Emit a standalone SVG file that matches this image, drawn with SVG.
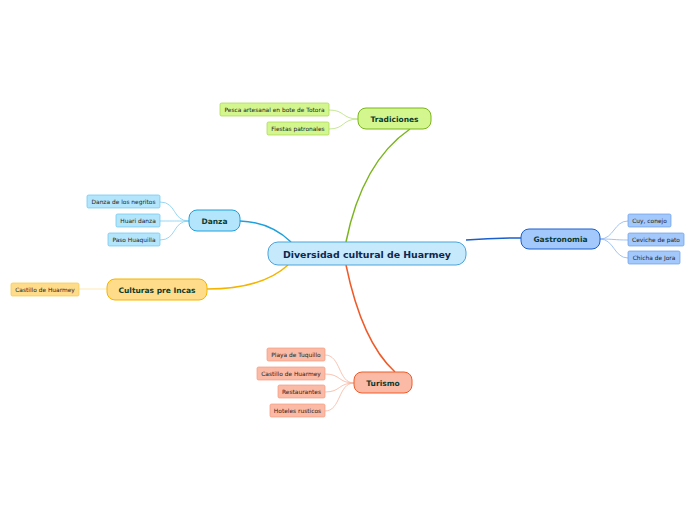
<svg xmlns="http://www.w3.org/2000/svg" width="696" height="520" viewBox="0 0 696 520">
<style>
text{font-family:"DejaVu Sans",Verdana,sans-serif;text-anchor:middle;dominant-baseline:central}
.main{font-size:7.5px;font-weight:bold;fill:#0d3b2e}
.leaf{font-size:5.9px;fill:#222}
.c{fill:none}
</style>
<rect width="696" height="520" fill="#fff"/>
<g id="connectors">
<path class="c" d="M346,242 Q362,162 410,129" stroke="#7ab51d" stroke-width="1.5"/>
<path class="c" d="M291,242 Q270,222 240,221" stroke="#1ea0dc" stroke-width="1.5"/>
<path class="c" d="M288,265 Q262,289 207,289" stroke="#f5b400" stroke-width="1.5"/>
<path class="c" d="M346,265 Q362,342 395,372" stroke="#f05a28" stroke-width="1.5"/>
<path class="c" d="M466,240 Q492,238 521,238" stroke="#1a5fcc" stroke-width="1.5"/>
<g stroke="#b8e07a" stroke-width="0.8">
<path class="c" d="M358,119 C342,119 345,110 329,110"/>
<path class="c" d="M358,119 C342,119 345,129 329,129"/>
</g>
<g stroke="#7fcdf0" stroke-width="0.8">
<path class="c" d="M189,221 C172,221 177,202 160,202"/>
<path class="c" d="M189,221 C172,221 177,221 160,221"/>
<path class="c" d="M189,221 C172,221 177,240 160,240"/>
</g>
<path class="c" d="M107,289 L79,289" stroke="#ffe3a0" stroke-width="0.8"/>
<g stroke="#8ab4f0" stroke-width="0.8">
<path class="c" d="M600,239 C614,239 614,221 628,221"/>
<path class="c" d="M600,239 C614,239 614,240 628,240"/>
<path class="c" d="M600,239 C614,239 614,258 628,258"/>
</g>
<g stroke="#f8b49e" stroke-width="0.8">
<path class="c" d="M354,383 C338,383 341,355 325,355"/>
<path class="c" d="M354,383 C338,383 341,374 325,374"/>
<path class="c" d="M354,383 C338,383 341,392 325,392"/>
<path class="c" d="M354,383 C338,383 341,411 325,411"/>
</g>
</g>
<g id="central">
<rect x="268" y="242" width="198" height="23" rx="10" fill="#c6eafc" stroke="#4aa3dc" stroke-width="1"/>
<text x="367" y="254" style="font-size:9.4px;font-weight:bold;fill:#10264f">Diversidad cultural de Huarmey</text>
</g>
<g id="tradiciones">
<rect x="358" y="108" width="73" height="21" rx="8" fill="#d4f68e" stroke="#7ab51d" stroke-width="1"/>
<text class="main" x="394.5" y="119">Tradiciones</text>
</g>
<g id="pesca">
<rect x="220" y="103" width="109" height="13" rx="1.5" fill="#d4f68e" stroke="#a6d44e" stroke-width="0.7"/>
<text class="leaf" x="274.5" y="110">Pesca artesanal en bote de Totora</text>
</g>
<g id="fiestas">
<rect x="267" y="122" width="62" height="13" rx="1.5" fill="#d4f68e" stroke="#a6d44e" stroke-width="0.7"/>
<text class="leaf" x="298" y="129">Fiestas patronales</text>
</g>
<g id="danza">
<rect x="189" y="210" width="51" height="21" rx="8" fill="#b3e5fc" stroke="#1ea0dc" stroke-width="1"/>
<text class="main" x="214.5" y="221">Danza</text>
</g>
<g id="negritos">
<rect x="87" y="195" width="73" height="13" rx="1.5" fill="#b3e5fc" stroke="#6cc4ee" stroke-width="0.7"/>
<text class="leaf" x="123.5" y="202">Danza de los negritos</text>
</g>
<g id="huari">
<rect x="116" y="214" width="44" height="13" rx="1.5" fill="#b3e5fc" stroke="#6cc4ee" stroke-width="0.7"/>
<text class="leaf" x="138" y="221">Huari danza</text>
</g>
<g id="paso">
<rect x="108" y="233" width="52" height="13" rx="1.5" fill="#b3e5fc" stroke="#6cc4ee" stroke-width="0.7"/>
<text class="leaf" x="134" y="240">Paso Huaquilla</text>
</g>
<g id="culturas">
<rect x="107" y="279" width="100" height="21" rx="8" fill="#ffdc8a" stroke="#f5b400" stroke-width="1"/>
<text class="main" x="157" y="290">Culturas pre Incas</text>
</g>
<g id="castillo1">
<rect x="11" y="283" width="68" height="13" rx="1.5" fill="#ffdc8a" stroke="#f5c84a" stroke-width="0.7"/>
<text class="leaf" x="45" y="290">Castillo de Huarmey</text>
</g>
<g id="gastronomia">
<rect x="521" y="229" width="79" height="20" rx="8" fill="#a2c8fc" stroke="#1a5fcc" stroke-width="1"/>
<text class="main" x="560.5" y="239.5">Gastronomia</text>
</g>
<g id="cuy">
<rect x="628" y="214" width="43" height="13" rx="1.5" fill="#a2c8fc" stroke="#6a9ce8" stroke-width="0.7"/>
<text class="leaf" x="649.5" y="221">Cuy, conejo</text>
</g>
<g id="ceviche">
<rect x="628" y="233" width="56" height="13" rx="1.5" fill="#a2c8fc" stroke="#6a9ce8" stroke-width="0.7"/>
<text class="leaf" x="656" y="240">Ceviche de pato</text>
</g>
<g id="chicha">
<rect x="628" y="251" width="52" height="13" rx="1.5" fill="#a2c8fc" stroke="#6a9ce8" stroke-width="0.7"/>
<text class="leaf" x="654" y="258">Chicha de Jora</text>
</g>
<g id="turismo">
<rect x="354" y="372" width="58" height="21" rx="8" fill="#fbbaa5" stroke="#f05a28" stroke-width="1"/>
<text class="main" x="383" y="383">Turismo</text>
</g>
<g id="playa">
<rect x="267" y="348" width="58" height="13" rx="1.5" fill="#fbbaa5" stroke="#f39a7e" stroke-width="0.7"/>
<text class="leaf" x="296" y="355">Playa de Tuquillo</text>
</g>
<g id="castillo2">
<rect x="257" y="367" width="68" height="13" rx="1.5" fill="#fbbaa5" stroke="#f39a7e" stroke-width="0.7"/>
<text class="leaf" x="291" y="374">Castillo de Huarmey</text>
</g>
<g id="restaurantes">
<rect x="278" y="385" width="47" height="13" rx="1.5" fill="#fbbaa5" stroke="#f39a7e" stroke-width="0.7"/>
<text class="leaf" x="301.5" y="392">Restaurantes</text>
</g>
<g id="hoteles">
<rect x="270" y="404" width="55" height="13" rx="1.5" fill="#fbbaa5" stroke="#f39a7e" stroke-width="0.7"/>
<text class="leaf" x="297.5" y="411">Hoteles rusticos</text>
</g>
</svg>
